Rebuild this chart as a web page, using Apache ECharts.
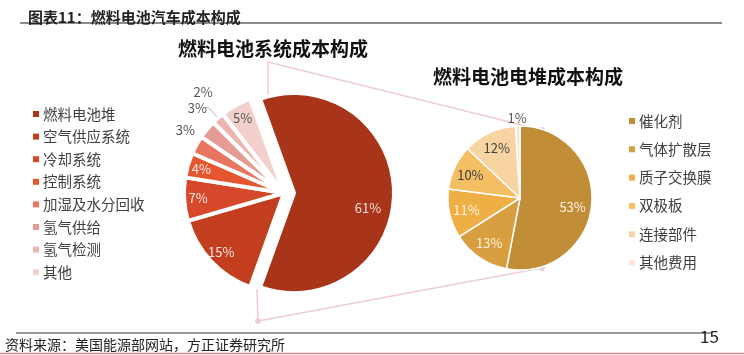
<!DOCTYPE html>
<html><head><meta charset="utf-8">
<script src="https://cdn.jsdelivr.net/npm/echarts@6/dist/echarts.min.js"></script>
<style>html,body{margin:0;padding:0;background:#fff}#c{width:744px;height:355px}</style>
</head><body><div id="c"></div>
<script>
const sysNames = ['燃料电池堆','空气供应系统','冷却系统','控制系统','加湿及水分回收','氢气供给','氢气检测','其他'];
const sysValues = [61, 15, 7, 4, 3, 3, 2, 5];
const sysColors = ['#A8341A','#C23E1F','#D6482A','#E5552F','#E9745F','#E39B93','#EDB5AF','#F3D0CC'];
const sysLabelColors = ['#F6E0DA','#FBE9E4','#FBE9E4','#FBE9E4','#555','#555','#555','#555'];
const sysOutside = [false,false,false,false,true,true,true,false];

const stackNames = ['催化剂','气体扩散层','质子交换膜','双极板','连接部件','其他费用'];
const stackValues = [53, 13, 11, 10, 12, 1];
const stackColors = ['#C18E37','#D89E3F','#EEB045','#F4BE62','#F8D4A3','#FAE4D9'];
const stackLabelColors = ['#FFF3E0','#FFF3E0','#FFF3E0','#404040','#404040','#404040'];
const stackOutside = [false,false,false,false,false,true];

const font = '"Noto Sans CJK SC", "Noto Sans", sans-serif';
const LC = [284, 193], LR = 100;
const RC = [520, 198], RR = 72;

const sysMain = sysNames.map((n,i)=>({
  name:n, value:sysValues[i], selected: i===0,
  itemStyle:{color:sysColors[i]},
  label:{show: sysOutside[i], position:'outside', formatter:'{c}%', color:'#555', fontSize:13, fontFamily:font},
  labelLine:{show: i===6, length: i===6?14:4, length2: i===6?4:0, smooth:0.3, lineStyle:{color:'#999',width:0.8}}
}));
const sysOverlay = sysNames.map((n,i)=>({
  name:n, value:sysValues[i], selected: i===0,
  itemStyle:{color:'rgba(0,0,0,0)'},
  label:{show: !sysOutside[i], color:sysLabelColors[i]}
}));
const stackMain = stackNames.map((n,i)=>({
  name:n, value:stackValues[i],
  itemStyle:{color:stackColors[i]},
  label:{show: stackOutside[i], position:'outside', formatter:'{c}%', color:'#555', fontSize:13, fontFamily:font},
  labelLine:{show:false, length:2, length2:0}
}));
const stackOverlay = stackNames.map((n,i)=>({
  name:n, value:stackValues[i],
  itemStyle:{color:'rgba(0,0,0,0)'},
  label:{show: !stackOutside[i], color:stackLabelColors[i]}
}));

const chart = echarts.init(document.getElementById('c'), null, {renderer:'canvas'});
const lineCol = '#EFCDD4';
chart.setOption({
  animation:false,
  title:[
    {text:'图表11：燃料电池汽车成本构成', left:23, top:5, textStyle:{fontFamily:font, fontSize:15, fontWeight:'bold', color:'#222'}},
    {text:'燃料电池系统成本构成', left:173, top:34, textStyle:{fontFamily:font, fontSize:19, fontWeight:'bold', color:'#111'}},
    {text:'燃料电池电堆成本构成', left:428, top:62, textStyle:{fontFamily:font, fontSize:19, fontWeight:'bold', color:'#111'}}
  ],
  legend:[
    {data:sysNames, orient:'vertical', left:28, top:101, icon:'rect', itemWidth:6, itemHeight:6, itemGap:6.6,
     itemStyle:{borderWidth:0}, textStyle:{fontFamily:font, fontSize:14.5, lineHeight:16, color:'#404040', padding:[0,0,0,-1]}},
    {data:stackNames, orient:'vertical', left:624, top:108, icon:'rect', itemWidth:6, itemHeight:6, itemGap:12.3,
     itemStyle:{borderWidth:0}, textStyle:{fontFamily:font, fontSize:14.5, lineHeight:16, color:'#404040', padding:[0,0,0,-1]}}
  ],
  graphic:[
    {type:'line', shape:{x1:20,y1:23,x2:722,y2:23}, style:{stroke:'#666', lineWidth:1.5}},
    {type:'line', shape:{x1:16,y1:333,x2:712,y2:333}, style:{stroke:'#777', lineWidth:1.5}},
    {type:'line', shape:{x1:0,y1:353.5,x2:744,y2:353.5}, style:{stroke:'#E58A8C', lineWidth:1.5}},
    {type:'text', left:5, top:338, style:{text:'资料来源：美国能源部网站，方正证券研究所', fontFamily:font, fontSize:14, fill:'#222'}},
    {type:'text', left:700, top:328, style:{text:'15', fontFamily:font, fontSize:17, fill:'#222'}},
    {type:'polyline', z:-1, shape:{points:[[268,100],[268,62],[542,130]]}, style:{stroke:lineCol, lineWidth:1.5, fill:null}},
    {type:'polyline', z:-1, shape:{points:[[257,289],[258,321],[542,268]]}, style:{stroke:lineCol, lineWidth:1.5, fill:null}},
    {type:'circle', shape:{cx:542,cy:130,r:3}, style:{fill:'#EFCFD8'}},
    {type:'circle', shape:{cx:542,cy:268,r:3}, style:{fill:'#EFCFD8'}},
    {type:'circle', shape:{cx:258,cy:321,r:3}, style:{fill:'#EFCFD8'}},
    {type:'circle', shape:{cx:268,cy:101,r:3}, style:{fill:'#EFCFD8'}}
  ],
  series:[
    {type:'pie', name:'sys', center:LC, radius:[0,LR], startAngle:109.8, clockwise:true,
     selectedMode:'single', selectedOffset:10, avoidLabelOverlap:false,
     itemStyle:{borderColor:'#fff', borderWidth:4},
     emphasis:{disabled:true}, silent:true,
     label:{show:false},
     labelLayout:function(p){
       if(p.dataIndex===4) return {dx:7, dy:-13};
       if(p.dataIndex===5) return {dx:8, dy:-19};
       if(p.dataIndex===6) return {dx:13, dy:-15};
       return {};
     },
     data:sysMain},
    {type:'pie', name:'sysLbl', center:LC, radius:[0,LR*1.66], startAngle:109.8, clockwise:true,
     selectedMode:'single', selectedOffset:10, avoidLabelOverlap:false, silent:true, z:3,
     emphasis:{disabled:true},
     itemStyle:{borderWidth:0},
     label:{position:'inside', formatter:'{c}%', fontFamily:font, fontSize:13},
     labelLine:{show:false},
     labelLayout:function(p){ if(p.dataIndex===0) return {dx:-12, dy:15}; return {}; },
     data:sysOverlay},
    {type:'pie', name:'stack', center:RC, radius:[0,RR], startAngle:90, clockwise:true,
     avoidLabelOverlap:false, silent:true, emphasis:{disabled:true},
     itemStyle:{borderColor:'#fff', borderWidth:1.5},
     label:{show:false},
     labelLayout:function(p){ if(p.dataIndex===5) return {dx:14, dy:-6}; return {}; },
     data:stackMain},
    {type:'pie', name:'stackLbl', center:RC, radius:[0,RR*1.44], startAngle:90, clockwise:true,
     avoidLabelOverlap:false, silent:true, z:3, emphasis:{disabled:true},
     itemStyle:{borderWidth:0},
     label:{position:'inside', formatter:'{c}%', fontFamily:font, fontSize:13},
     labelLine:{show:false},
     labelLayout:function(p){ if(p.dataIndex===0) return {dx:-2, dy:4}; return {}; },
     data:stackOverlay}
  ]
});
</script></body></html>
